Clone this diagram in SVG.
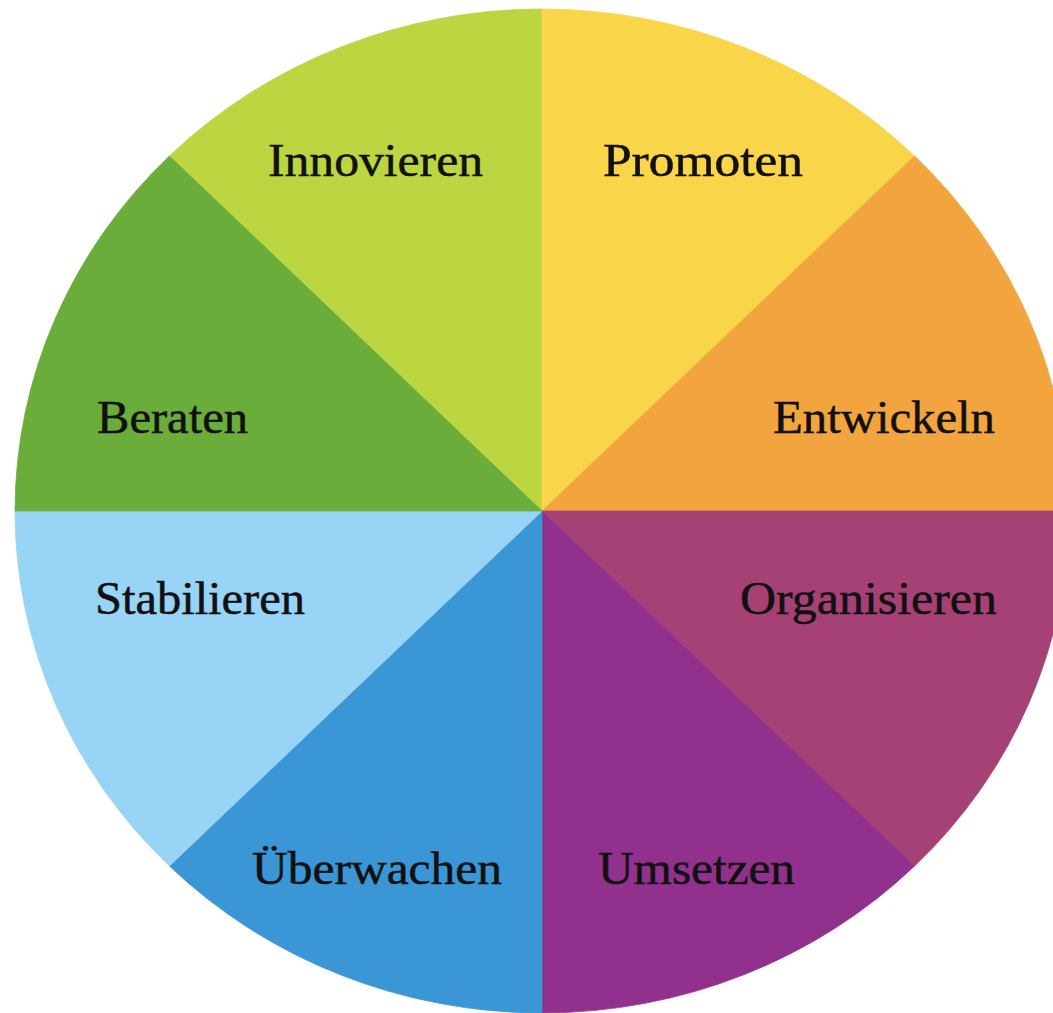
<svg xmlns="http://www.w3.org/2000/svg" width="1053" height="1013" viewBox="0 0 1053 1013">
<style>
.lbl{font-family:"Liberation Serif","DejaVu Serif",serif;font-size:46px;fill:#111;stroke:#111;stroke-width:0.5px;}
path{stroke-width:0.8px;stroke-linejoin:round;}
</style>
<rect width="1053" height="1013" fill="#ffffff"/>
<g id="slices">
<g id="innovieren"><path d="M542,511 L542,9 A527,502 0 0 0 169.4,156 Z" fill="#BBD641" stroke="#BBD641"/><text class="lbl" x="268" y="176" textLength="215" lengthAdjust="spacingAndGlyphs">Innovieren</text></g>
<g id="promoten"><path d="M542,511 L914.6,156 A527,502 0 0 0 542,9 Z" fill="#F9D54A" stroke="#F9D54A"/><text class="lbl" x="603" y="176" textLength="200" lengthAdjust="spacingAndGlyphs">Promoten</text></g>
<g id="entwickeln"><path d="M542,511 L1069,511 A527,502 0 0 0 914.6,156 Z" fill="#F2A43F" stroke="#F2A43F"/><text class="lbl" x="773" y="433" textLength="222" lengthAdjust="spacingAndGlyphs">Entwickeln</text></g>
<g id="organisieren"><path d="M542,511 L914.6,866 A527,502 0 0 0 1069,511 Z" fill="#A64175" stroke="#A64175"/><text class="lbl" x="740" y="614" textLength="257" lengthAdjust="spacingAndGlyphs">Organisieren</text></g>
<g id="umsetzen"><path d="M542,511 L542,1013 A527,502 0 0 0 914.6,866 Z" fill="#92318D" stroke="#92318D"/><text class="lbl" x="598" y="884" textLength="197" lengthAdjust="spacingAndGlyphs">Umsetzen</text></g>
<g id="ueberwachen"><path d="M542,511 L169.4,866 A527,502 0 0 0 542,1013 Z" fill="#3A96D4" stroke="#3A96D4"/><text class="lbl" x="252" y="884" textLength="250" lengthAdjust="spacingAndGlyphs">Überwachen</text></g>
<g id="stabilieren"><path d="M542,511 L15,511 A527,502 0 0 0 169.4,866 Z" fill="#98D4F6" stroke="#98D4F6"/><text class="lbl" x="95" y="614" textLength="210" lengthAdjust="spacingAndGlyphs">Stabilieren</text></g>
<g id="beraten"><path d="M542,511 L169.4,156 A527,502 0 0 0 15,511 Z" fill="#6AAD3A" stroke="#6AAD3A"/><text class="lbl" x="97" y="433" textLength="151" lengthAdjust="spacingAndGlyphs">Beraten</text></g>
</g>
<g id="connectors"></g>
</svg>
